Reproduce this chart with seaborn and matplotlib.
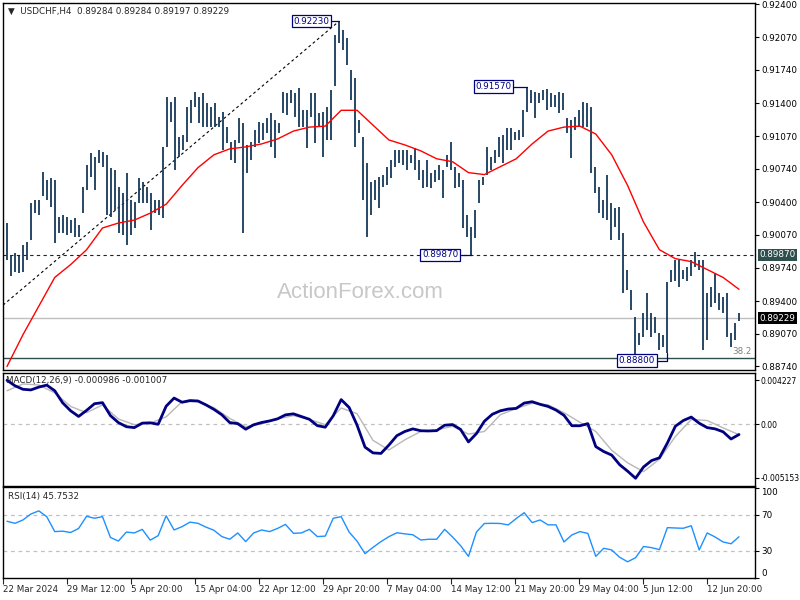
import numpy as np
import matplotlib.pyplot as plt
import seaborn as sns

# USDCHF H4 bars (left to right)
highs = [
    .9019, .8987, .8989, .8986, .8997, .9000, .9039, .9042, .9042, .9071,
    .9063, .9065, .9063, .9025, .9027, .9025, .9022, .9024, .9017, .9055,
    .9078, .9090, .9086, .9093, .9091, .9088, .9075, .9073, .9055, .9049,
    .9070, .9042, .9040, .9065, .9061, .9055, .9049, .9042, .9042, .9096,
    .9146, .9141, .9146, .9106, .9108, .9136, .9143, .9152, .9146, .9151,
    .9140, .9136, .9140, .9126, .9131, .9116, .9101, .9103, .9125, .9120,
    .9098, .9101, .9113, .9121, .9120, .9125, .9130, .9123, .9120, .9152,
    .9151, .9154, .9151, .9156, .9133, .9133, .9151, .9151, .9130, .9131,
    .9136, .9154, .9209, .9223, .9214, .9206, .9174, .9166, .9123, .9106,
    .9080, .9061, .9063, .9066, .9068, .9076, .9083, .9093, .9093, .9093,
    .9093, .9088, .9095, .9083, .9073, .9083, .9070, .9073, .9078, .9073,
    .9088, .9101, .9076, .9070, .9063, .9027, .9015, .9032, .9063, .9066,
    .9096, .9086, .9093, .9106, .9108, .9115, .9115, .9111, .9113, .9133,
    .9157, .9154, .9152, .9151, .9154, .9155, .9151, .9148, .9152, .9151,
    .9125, .9123, .9126, .9133, .9141, .9140, .9136, .9076, .9055, .9042,
    .9068, .9039, .9034, .9035, .9009, .8972, .8951, .8924, .8908, .8928,
    .8948, .8928, .8924, .8908, .8906, .8959, .8972, .8982, .8982, .8972,
    .8975, .8982, .8990, .8982, .8982, .8948, .8954, .8967, .8948, .8944,
    .8948, .8908, .8918, .89284,
]
lows = [
    .8982, .8965, .8969, .8968, .8969, .8982, .9002, .9029, .9027, .9046,
    .9042, .9035, .8999, .9009, .9009, .9007, .9009, .9005, .9005, .9029,
    .9052, .9066, .9052, .9080, .9076, .9027, .9025, .9032, .9009, .9007,
    .8997, .9007, .9014, .9039, .9039, .9039, .9012, .9029, .9027, .9024,
    .9096, .9121, .9073, .9086, .9093, .9101, .9120, .9136, .9120, .9116,
    .9116, .9116, .9116, .9116, .9093, .9100, .9083, .9080, .9100, .9009,
    .9070, .9083, .9096, .9100, .9103, .9110, .9096, .9085, .9110, .9130,
    .9128, .9140, .9126, .9116, .9116, .9095, .9126, .9100, .9116, .9086,
    .9103, .9103, .9158, .9201, .9194, .9179, .9143, .9096, .9110, .9042,
    .9005, .9027, .9042, .9034, .9055, .9057, .9065, .9076, .9080, .9078,
    .9073, .9080, .9073, .9063, .9054, .9055, .9054, .9060, .9063, .9044,
    .9076, .9073, .9054, .9055, .9014, .9005, .8987, .9004, .9039, .9057,
    .9068, .9073, .9080, .9086, .9080, .9093, .9093, .9103, .9103, .9106,
    .9131, .9140, .9125, .9140, .9143, .9133, .9136, .9136, .9130, .9133,
    .9110, .9085, .9113, .9116, .9116, .9116, .9070, .9049, .9029, .9024,
    .9022, .9002, .9015, .9002, .8948, .8951, .8931, .8880, .8896, .8904,
    .8911, .8904, .8908, .8891, .8894, .8888, .8959, .8960, .8954, .8962,
    .8960, .8965, .8975, .8972, .8891, .8901, .8934, .8938, .8931, .8928,
    .8904, .8894, .8901, .89197,
]

# moving average (red), sampled every 4 bars
ma = [
    .8874, .8906, .8935, .8964, .8977, .8992, .9014, .9019, .9022, .9029,
    .9038, .9057, .9075, .9088, .9094, .9096, .9099, .9104, .9112, .9116,
    .9117, .9133, .9133, .9118, .9103, .9098, .9092, .9084, .9081, .9070,
    .9068, .9076, .9084, .9099, .9112, .9116, .9117, .9109, .9088, .9057,
    .9020, .8992, .8983, .8980, .8972, .8964, .8952,
]

# MACD(12,26,9) main line, sampled every 2 bars
macd = [
    .00420, .00368, .00334, .00328, .00355, .00374, .00320, .00204, .00128, .00074,
    .00132, .00196, .00206, .00082, .00015, -.00024, -.00033, .00010, .00013, -.00001,
    .00172, .00250, .00210, .00226, .00222, .00185, .00142, .00090, .00015, .00005,
    -.00048, -.00006, .00016, .00031, .00051, .00089, .00099, .00073, .00047, -.00014,
    -.00029, .00080, .00235, .00160, -.00010, -.00220, -.00275, -.00280, -.00200, -.00110,
    -.00070, -.00045, -.00063, -.00065, -.00062, -.00010, -.00004, -.00050, -.00170, -.00090,
    .00028, .00095, .00128, .00145, .00151, .00202, .00215, .00190, .00170, .00135,
    .00085, -.00015, -.00015, .00005, -.00215, -.00262, -.00296, -.00388, -.00450, -.00518,
    -.00410, -.00349, -.00322, -.00180, -.00020, .00035, .00068, .00009, -.00033, -.00045,
    -.00073, -.00142, -.00099,
]
# signal line, sampled every 4 bars
signal = [
    .00320, .00385, .00375, .00300, .00170, .00110, .00184, .00050, -.00005, .00010,
    .00070, .00215, .00216, .00158, .00055, -.00024, .00003, .00050, .00082, .00046,
    -.00005, .00155, .00100, -.00155, -.00247, -.00150, -.00070, -.00055, -.00020, -.00095,
    -.00070, .00090, .00150, .00200, .00185, .00110, .00018, -.00070, -.00250, -.00370,
    -.00455, -.00335, -.00118, .00045, .00035, -.00035, -.00101,
]

# RSI(14), sampled every 2 bars
rsi = [
    63, 60.7, 64.4, 71.0, 74.5, 68.0, 51.5, 52, 50.5, 55,
    68.5, 66.3, 68.1, 45, 41, 51, 50, 54, 42, 47,
    69, 53.3, 57, 62, 60.7, 56.5, 53, 46, 43, 50,
    40.4, 50, 53.3, 51.5, 55, 59.5, 49.6, 50, 54, 46,
    46.5, 66.3, 68.1, 51, 40.8, 27, 34, 40.4, 45.9, 50.2,
    49, 48, 42.2, 43, 43, 54, 45.5, 36, 24, 51,
    60.5, 60.7, 60.5, 58.9, 66, 72.5, 61.5, 64.4, 59, 59,
    40, 47.8, 51.5, 49.5, 24, 33, 31.1, 23, 18, 22.5,
    35, 33.7, 31.5, 55.9, 55.5, 55.2, 58, 31.1, 50, 45.5,
    40, 38, 45.75,
]

date_labels = ["22 Mar 2024", "29 Mar 12:00", "5 Apr 20:00", "15 Apr 04:00",
               "22 Apr 12:00", "29 Apr 20:00", "7 May 04:00", "14 May 12:00",
               "21 May 20:00", "29 May 04:00", "5 Jun 12:00", "12 Jun 20:00"]
date_bars = [-1, 15, 31, 47, 63, 79, 95, 111, 127, 143, 159, 175]

price_ticks = [0.92400, 0.92070, 0.91740, 0.91400, 0.91070, 0.90740,
               0.90400, 0.90070, 0.89740, 0.89400, 0.89070, 0.88740]

# marked levels
peak, peak_bar = 0.92230, 83
high2, high2_bar = 0.91570, 130
low1, low1_bar = 0.89870, 116
low2, low2_bar = 0.88800, 165
last_close = 0.89229
fib382 = 0.8883
trend = [(-1, 0.8936), (83, 0.9223)]

sns.set_style("white")
plt.rcParams["font.family"] = ["DejaVu Sans"]

BAR = "#17395a"
NAVY = "#000080"
FS = 6.3

n = len(highs)
x = np.arange(n)

fig = plt.figure(figsize=(8, 6), dpi=100)
L, W = 3 / 800, 752 / 800
ax1 = fig.add_axes([L, 1 - 370 / 600, W, 367 / 600])
ax2 = fig.add_axes([L, 1 - 486 / 600, W, 113 / 600])
ax3 = fig.add_axes([L, 1 - 578 / 600, W, 91 / 600])

for ax in (ax1, ax2, ax3):
    ax.set_xlim(-1, 187)
    for s in ax.spines.values():
        s.set_color("black")
        s.set_linewidth(1)
    ax.yaxis.tick_right()
    ax.tick_params(axis="y", direction="out", length=3, width=0.8,
                   labelsize=FS, pad=1.5, colors="black", left=False, right=True)
    ax.set_xticks([])

# ---- price panel ----
ax1.set_ylim(0.88704, 0.92415)
ax1.text(0.4747, 0.21, "ActionForex.com", transform=ax1.transAxes,
         ha="center", va="center", fontsize=16, color="#c8c8c8",
         family="Liberation Sans")
ax1.axhline(low1, color="#222222", lw=0.8, dashes=(3, 3))
ax1.axhline(last_close, color="#c0c0c0", lw=1)
ax1.axhline(fib382, color="#2f4f4f", lw=1)
ax1.plot([trend[0][0], trend[1][0]], [trend[0][1], trend[1][1]],
         color="black", lw=0.8, dashes=(2.5, 2.5))
ax1.vlines(x, lows, highs, color=BAR, lw=1.3)
sns.lineplot(x=np.linspace(0, n - 1, len(ma)), y=ma, ax=ax1, color="red",
             lw=1, legend=False)
ax1.set_yticks(price_ticks)
ax1.set_yticklabels([f"{v:.5f}" for v in price_ticks])

box = dict(boxstyle="square,pad=0.18", fc="white", ec=NAVY, lw=0.9)
for val, bar, right in [(peak, peak_bar, 80.6), (high2, high2_bar, 126.2),
                        (low1, low1_bar, 112.8)]:
    ax1.text(right, val, f"{val:.5f}", ha="right", va="center", fontsize=FS,
             color=NAVY, bbox=box, zorder=5)
    ax1.plot([right + 0.4, bar], [val, val], color=NAVY, lw=0.9, zorder=4)
ax1.text(162, low2, f"{low2:.5f}", ha="right", va="center", fontsize=FS,
         color=NAVY, bbox=box, zorder=5)
ax1.plot([162.4, low2_bar, low2_bar], [low2, low2, lows[low2_bar]],
         color=NAVY, lw=0.9, zorder=4)
ax1.text(0.995, fib382 + 0.0002, "38.2", transform=ax1.get_yaxis_transform(),
         ha="right", va="bottom", fontsize=FS, color="#808080")

ax1.text(1.006, low1, f"{low1:.5f}", transform=ax1.get_yaxis_transform(),
         ha="left", va="center", fontsize=FS, color="white",
         bbox=dict(boxstyle="square,pad=0.15", fc="#2f4f4f", ec="none"))
ax1.text(1.006, last_close, f"{last_close:.5f}", transform=ax1.get_yaxis_transform(),
         ha="left", va="center", fontsize=FS, color="white",
         bbox=dict(boxstyle="square,pad=0.15", fc="black", ec="none"))
ax1.text(0.006, 0.978, "\u25BC  USDCHF,H4  0.89284 0.89284 0.89197 0.89229",
         transform=ax1.transAxes, ha="left", va="center", fontsize=FS)

# ---- MACD panel ----
ax2.set_ylim(-0.00592, 0.00490)
ax2.axhline(0, color="#c0c0c0", lw=0.9, dashes=(3, 3))
sns.lineplot(x=np.linspace(0, n - 1, len(signal)), y=signal, ax=ax2,
             color="#b8b8b8", lw=1, legend=False)
sns.lineplot(x=np.linspace(0, n - 1, len(macd)), y=macd, ax=ax2,
             color=NAVY, lw=2, legend=False)
ax2.set_yticks([0.004227, 0.0, -0.005153])
ax2.set_yticklabels(["0.004227", "0.00", "-0.005153"])
ax2.tick_params(axis="y", labelsize=5.5, pad=1)
ax2.text(0.004, 0.93, "MACD(12,26,9) -0.000986 -0.001007",
         transform=ax2.transAxes, ha="left", va="center", fontsize=FS)

# ---- RSI panel ----
ax3.set_ylim(0, 101)
for lv in (30, 70):
    ax3.axhline(lv, color="#c0c0c0", lw=0.9, dashes=(3, 3))
sns.lineplot(x=np.linspace(0, n - 1, len(rsi)), y=rsi, ax=ax3,
             color="#1e90ff", lw=1, legend=False)
ax3.set_yticks([0, 30, 70, 100])
ax3.set_yticklabels(["0", "30", "70", "100"])
for t in ax3.yaxis.get_major_ticks():
    if t.get_loc() == 0:
        t.label2.set_va("bottom")
    elif t.get_loc() == 100:
        t.label2.set_va("top")
ax3.text(0.006, 0.90, "RSI(14) 45.7532", transform=ax3.transAxes,
         ha="left", va="center", fontsize=FS)
ax3.set_xticks(date_bars)
ax3.set_xticklabels(date_labels)
ax3.tick_params(axis="x", direction="out", length=4, width=0.8,
                labelsize=FS, pad=1, bottom=True)
for lbl in ax3.get_xticklabels():
    lbl.set_ha("left")

for ax in (ax1, ax2, ax3):
    ax.set_xlabel("")
    ax.set_ylabel("")

fig.savefig("out.png", dpi=100)
